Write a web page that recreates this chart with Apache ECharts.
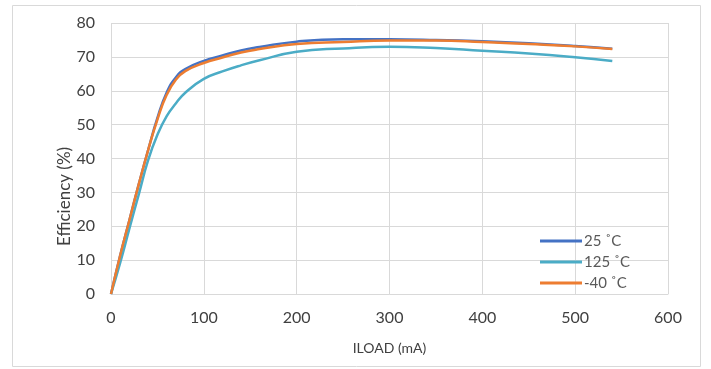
<!DOCTYPE html>
<html>
<head>
<meta charset="utf-8">
<script src="https://cdn.jsdelivr.net/npm/echarts@6/dist/echarts.min.js"></script>
<style>
  html, body { margin: 0; padding: 0; background: #fff; }
  #chart { width: 711px; height: 369px; }
</style>
</head>
<body>
<div id="chart"></div>
<script>
// load current (mA)
var iload = [0, 10, 20, 30, 40, 50, 60, 70, 80, 100, 120, 140, 160, 200, 250, 300, 350, 400, 450, 500, 540];
// efficiency (%) per temperature
var eff25 = [0, 11.5, 22, 32.5, 42.5, 52, 59.5, 64, 66.4, 68.8, 70.4, 71.9, 72.9, 74.5, 75.2, 75.2, 75, 74.6, 74, 73.2, 72.4];
var eff125 = [0, 9.3, 19.5, 29.5, 39.5, 47, 52.5, 56.3, 59.4, 63.5, 65.7, 67.5, 69, 71.5, 72.5, 73, 72.6, 71.8, 71, 69.9, 68.8];
var effM40 = [0, 11.5, 22, 32.5, 42.5, 51.5, 58.8, 63.3, 65.8, 68.2, 69.8, 71.3, 72.3, 73.8, 74.4, 74.8, 74.8, 74.4, 73.8, 73.1, 72.3];

var names = ['25 ˚C', '125 ˚C', '-40 ˚C'];
var colors = ['#4472C4', '#4BACC6', '#ED7D31'];

function pairs(ys) {
    return iload.map(function (x, i) { return [x, ys[i]]; });
}

var myChart = echarts.init(document.getElementById('chart'));
var font = 'Lato, "Noto Sans", sans-serif';
option = {
    color: colors,
    animation: false,
    graphic: [{
        type: 'rect',
        shape: { x: 12.5, y: 5.5, width: 688, height: 361 },
        style: { fill: 'none', stroke: '#d9d9d9', lineWidth: 1 }
    }],
    grid: { left: 111, right: 43, top: 23, bottom: 75 },
    legend: {
        orient: 'vertical',
        left: 535,
        top: 228,
        itemGap: 5,
        itemWidth: 42,
        itemHeight: 3,
        icon: 'rect',
        textStyle: { color: '#595959', fontSize: 15, lineHeight: 16, fontFamily: font, padding: [0, 0, 0, -3] },
        data: names
    },
    xAxis: {
        type: 'value',
        min: 0, max: 600, interval: 100,
        name: 'ILOAD (mA)',
        nameLocation: 'middle',
        nameGap: 47,
        nameTextStyle: { color: '#404040', fontSize: 14, fontFamily: font },
        axisLine: { show: true, lineStyle: { color: '#d9d9d9' } },
        axisTick: { show: false },
        axisLabel: { color: '#404040', fontSize: 16, fontFamily: font, margin: 16 },
        splitLine: { show: true, lineStyle: { color: '#d9d9d9' } }
    },
    yAxis: {
        type: 'value',
        min: 0, max: 80, interval: 10,
        name: 'Efficiency (%)',
        nameLocation: 'middle',
        nameGap: 38,
        nameMoveOverlap: false,
        nameRotate: 90,
        nameTextStyle: { color: '#404040', fontSize: 17, fontFamily: font, padding: [0, 76, 0, 0] },
        axisLine: { show: false },
        axisTick: { show: false },
        axisLabel: { color: '#404040', fontSize: 16, fontFamily: font, margin: 16 },
        splitLine: { show: true, lineStyle: { color: '#d9d9d9' } }
    },
    series: [
        { name: names[0], type: 'line', smooth: 0.5, showSymbol: false, lineStyle: { width: 2.5 }, data: pairs(eff25) },
        { name: names[1], type: 'line', smooth: 0.5, showSymbol: false, lineStyle: { width: 2.5 }, data: pairs(eff125) },
        { name: names[2], type: 'line', smooth: 0.5, showSymbol: false, lineStyle: { width: 2.5 }, data: pairs(effM40) }
    ]
};
myChart.setOption(option);
</script>
</body>
</html>
